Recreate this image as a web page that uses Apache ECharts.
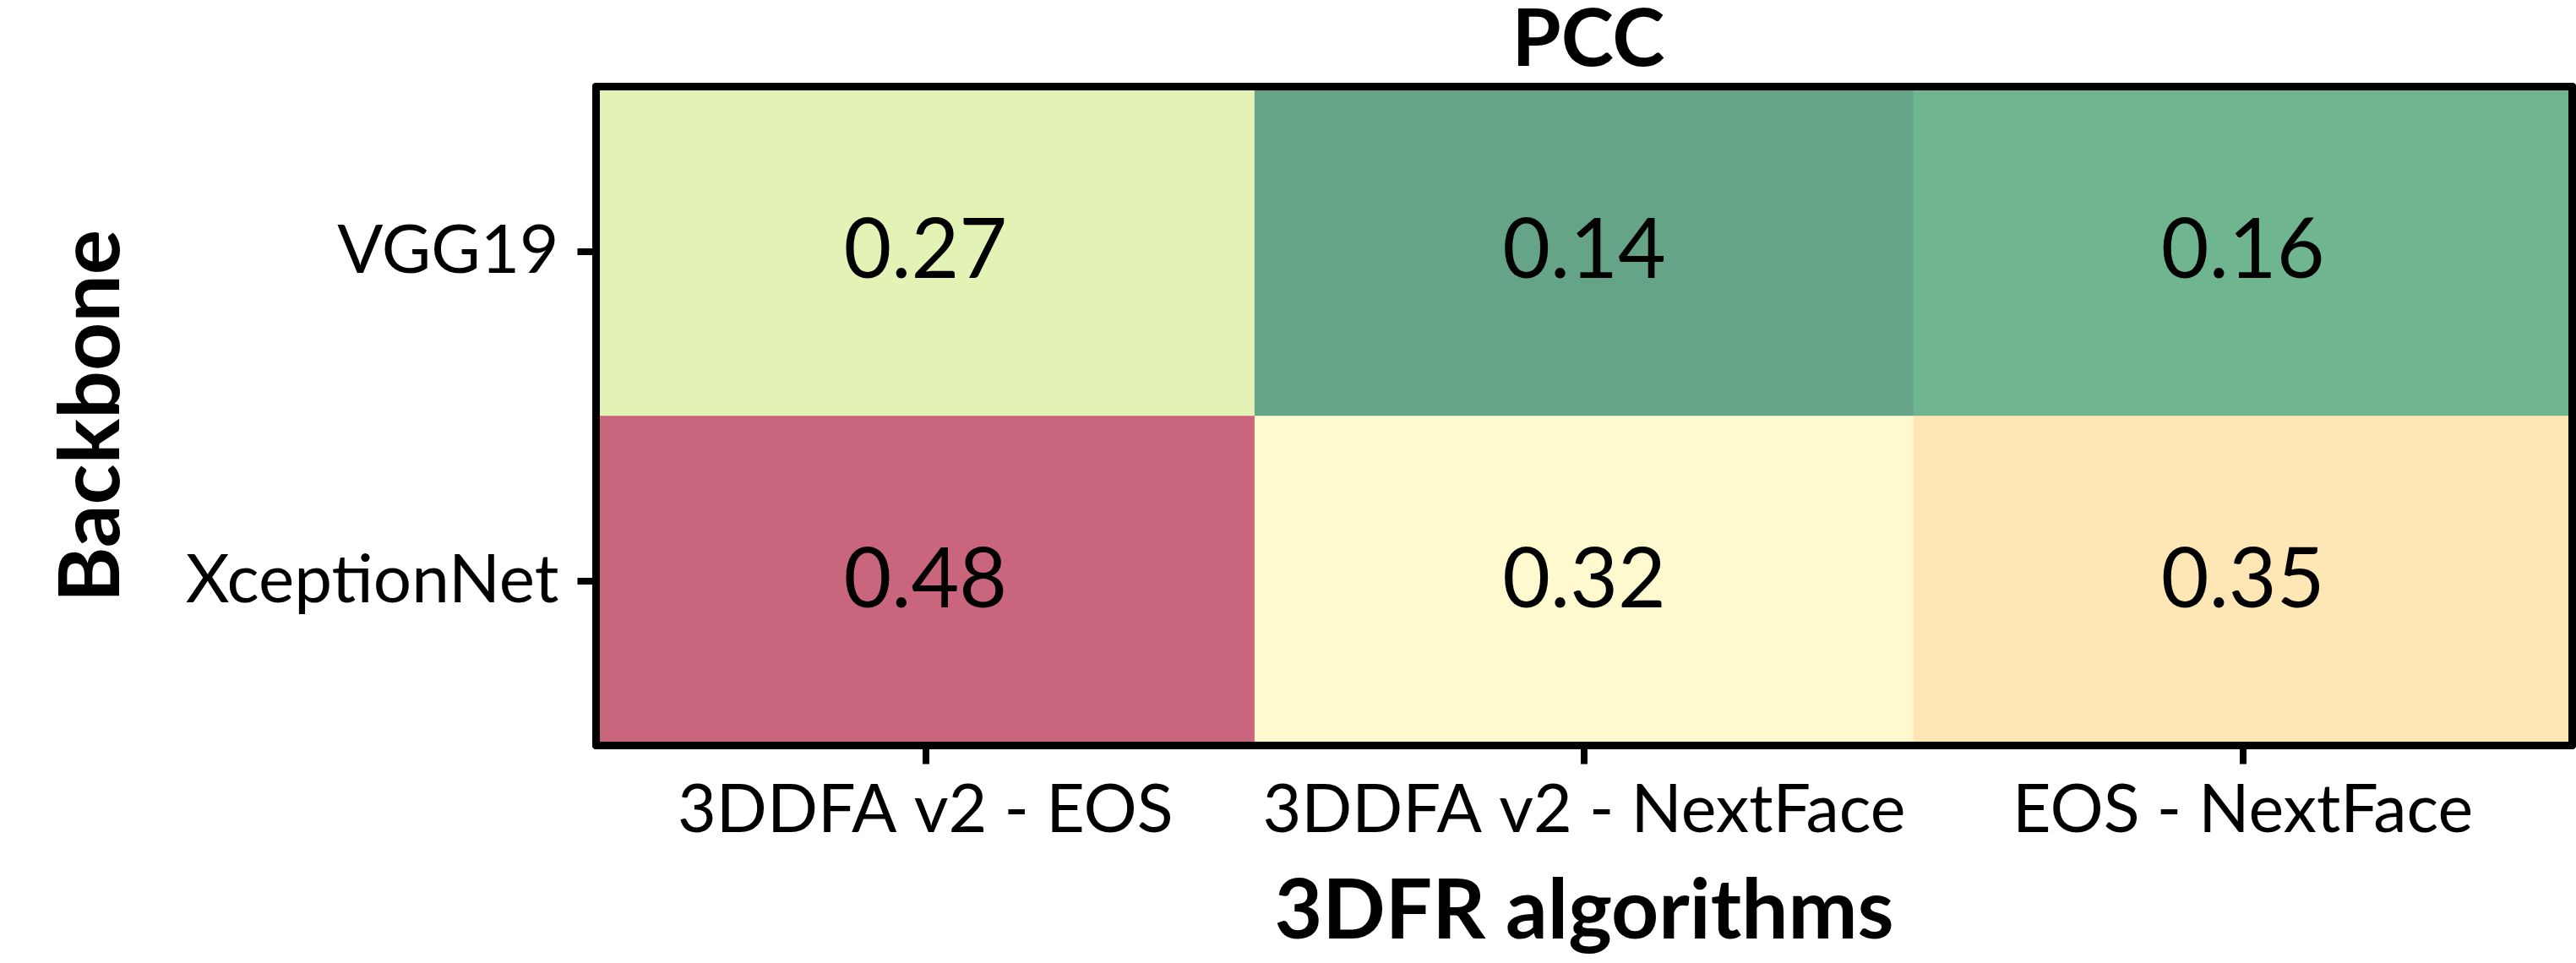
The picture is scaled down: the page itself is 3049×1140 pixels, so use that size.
<!DOCTYPE html>
<html>
<head>
<meta charset="utf-8">
<script src="https://cdn.jsdelivr.net/npm/echarts@6/dist/echarts.min.js"></script>
<style>
html,body{margin:0;padding:0;background:#fff;}
#chart{width:3049px;height:1140px;}
</style>
</head>
<body>
<div id="chart"></div>
<script>
// ---- data ----
const algorithms = ['3DDFA v2 - EOS', '3DDFA v2 - NextFace', 'EOS - NextFace'];
const backbones = ['VGG19', 'XceptionNet'];
const vgg19Values = [0.27, 0.14, 0.16];
const xceptionValues = [0.48, 0.32, 0.35];
const chartTitle = 'PCC';
const xAxisName = '3DFR algorithms';
const yAxisName = 'Backbone';

// ---- style: RdYlGn reversed, blended with white at alpha 0.6 ----
const rdylgnR = ['#006837','#1a9850','#66bd63','#a6d96a','#d9ef8b','#ffffbf','#fee08b','#fdae61','#f46d43','#d73027','#a50026'];
function blend(hex, a) {
  const n = parseInt(hex.slice(1), 16);
  const r = (n >> 16) & 255, g = (n >> 8) & 255, b = n & 255;
  const f = v => Math.round(a * v + (1 - a) * 255);
  return 'rgb(' + f(r) + ',' + f(g) + ',' + f(b) + ')';
}
const cmap = rdylgnR.map(c => blend(c, 0.6));

const rows = [vgg19Values, xceptionValues];
const heatData = [];
rows.forEach((vals, yi) => vals.forEach((v, xi) => heatData.push([xi, yi, v])));
const allVals = rows.flat();

const FONT = 'Lato';
const chart = echarts.init(document.getElementById('chart'), null, {renderer: 'canvas'});
chart.setOption({
  animation: false,
  backgroundColor: '#fff',
  title: {
    text: chartTitle,
    left: 1875,
    top: -4,
    textAlign: 'center',
    textStyle: {fontFamily: FONT, fontWeight: 'bold', fontSize: 94, color: '#000'}
  },
  grid: {left: 705.5, right: 4.5, top: 102.5, bottom: 257.5, containLabel: false, outerBoundsMode: 'none'},
  xAxis: [{
    type: 'category',
    data: algorithms,
    position: 'bottom',
    z: 10,
    axisLine: {show: true, onZero: false, lineStyle: {color: '#000', width: 9}},
    axisTick: {show: true, alignWithLabel: true, interval: 0, length: 22, lineStyle: {color: '#000', width: 8}},
    axisLabel: {fontFamily: FONT, fontSize: 79, color: '#000', margin: 38, interval: 0, hideOverlap: false},
    splitLine: {show: false},
    name: xAxisName,
    nameLocation: 'middle',
    nameGap: 148,
    nameTextStyle: {fontFamily: FONT, fontWeight: 'bold', fontSize: 98, color: '#000'}
  }, {
    type: 'category',
    data: algorithms,
    position: 'top',
    z: 10,
    axisLine: {show: true, onZero: false, lineStyle: {color: '#000', width: 9}},
    axisTick: {show: false},
    axisLabel: {show: false},
    splitLine: {show: false}
  }],
  yAxis: [{
    type: 'category',
    data: backbones,
    inverse: true,
    position: 'left',
    z: 10,
    axisLine: {show: true, onZero: false, lineStyle: {color: '#000', width: 9}},
    axisTick: {show: true, alignWithLabel: true, interval: 0, length: 22, lineStyle: {color: '#000', width: 8}},
    axisLabel: {fontFamily: FONT, fontSize: 80, color: '#000', margin: 44, interval: 0},
    splitLine: {show: false},
    name: yAxisName,
    nameLocation: 'middle',
    nameGap: 547,
    nameRotate: 90,
    nameTextStyle: {fontFamily: FONT, fontWeight: 'bold', fontSize: 100, color: '#000'}
  }, {
    type: 'category',
    data: backbones,
    inverse: true,
    position: 'right',
    z: 10,
    axisLine: {show: true, onZero: false, lineStyle: {color: '#000', width: 9}},
    axisTick: {show: false},
    axisLabel: {show: false},
    splitLine: {show: false}
  }],
  visualMap: {
    show: false,
    type: 'continuous',
    min: Math.min(...allVals),
    max: Math.max(...allVals),
    dimension: 2,
    inRange: {color: cmap}
  },
  series: [{
    type: 'heatmap',
    data: heatData,
    xAxisIndex: 0,
    yAxisIndex: 0,
    label: {
      show: true,
      formatter: p => p.value[2].toFixed(2),
      fontFamily: FONT,
      fontSize: 98,
      color: '#000'
    },
    itemStyle: {borderWidth: 0},
    emphasis: {disabled: true}
  }]
});
</script>
</body>
</html>
